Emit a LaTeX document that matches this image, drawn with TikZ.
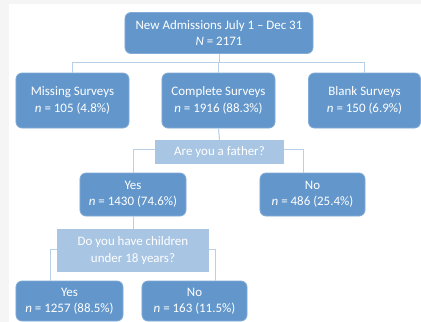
\documentclass[tikz,border=0pt]{standalone}
\usepackage{fontspec}
\setmainfont{Carlito}
\definecolor{boxfill}{RGB}{99,151,203}
\definecolor{boxedge}{RGB}{130,172,215}
\definecolor{qfill}{RGB}{168,197,227}
\definecolor{lnk}{RGB}{184,207,232}
\definecolor{bggray}{RGB}{245,245,245}
\begin{document}
\begin{tikzpicture}[x=1bp,y=-1bp,
  box/.style={draw=boxedge,line width=0.8bp,fill=boxfill,rounded corners=6bp,text=white,align=center,inner sep=0pt,font=\fontsize{13}{16.5}\selectfont},
  qbox/.style={fill=qfill,text=white,align=center,inner sep=0pt,font=\fontsize{13}{16.5}\selectfont},
  link/.style={draw=lnk,line width=1bp}]
\fill[white] (0,0) rectangle (421,322);
\fill[bggray] (0,0) rectangle (9,322);
\fill[bggray] (0,0) rectangle (421,4);
\useasboundingbox (0,0) rectangle (421,322);
% nodes
\node[box,minimum width=188bp,minimum height=41bp] (top) at (219,33) {New Admissions July 1 – Dec 31\\\textit{N} = 2171};
\node[box,minimum width=113bp,minimum height=55bp] (miss) at (72.5,100.5) {Missing Surveys\\\textit{n} = 105 (4.8\%)};
\node[box,minimum width=113bp,minimum height=55bp] (comp) at (218.5,100.5) {Complete Surveys\\\textit{n} = 1916 (88.3\%)};
\node[box,minimum width=112bp,minimum height=55bp] (blank) at (364.5,100.5) {Blank Surveys\\\textit{n} = 150 (6.9\%)};
\node[qbox,minimum width=129bp,minimum height=24bp] (q1) at (219.5,152) {Are you a father?};
\node[box,minimum width=106bp,minimum height=43bp] (yes1) at (133,194.5) {Yes\\\textit{n} = 1430 (74.6\%)};
\node[box,minimum width=105bp,minimum height=43bp] (no1) at (312.5,194.5) {No\\\textit{n} = 486 (25.4\%)};
\node[qbox,minimum width=152bp,minimum height=43bp] (q2) at (133,250.5) {Do you have children\\under 18 years?};
\node[box,minimum width=107bp,minimum height=40bp] (yes2) at (69.5,301) {Yes\\\textit{n} = 1257 (88.5\%)};
\node[box,minimum width=105bp,minimum height=40bp] (no2) at (194.5,301) {No\\\textit{n} = 163 (11.5\%)};
% connectors
\coordinate (bus) at (219,62);
\draw[link] (top.south) -- (bus);
\draw[link] (miss.north) -- (miss.north |- bus) -- (blank.north |- bus) -- (blank.north);
\draw[link] (comp.north) -- (comp.north |- bus);
\draw[link] (comp.south) -- (q1.north);
\coordinate (r1) at (303,149);
\coordinate (l1) at (133,149);
\draw[link] (q1.west |- l1) -- (l1) -- (yes1.north);
\draw[link] (q1.east |- r1) -- (r1) -- (r1 |- no1.north);
\draw[link] (yes1.south) -- (q2.north);
\coordinate (l2) at (50,249);
\coordinate (r2) at (215,249);
\draw[link] (q2.west |- l2) -- (l2) -- (l2 |- yes2.north);
\draw[link] (q2.east |- r2) -- (r2) -- (r2 |- no2.north);
\end{tikzpicture}
\end{document}
